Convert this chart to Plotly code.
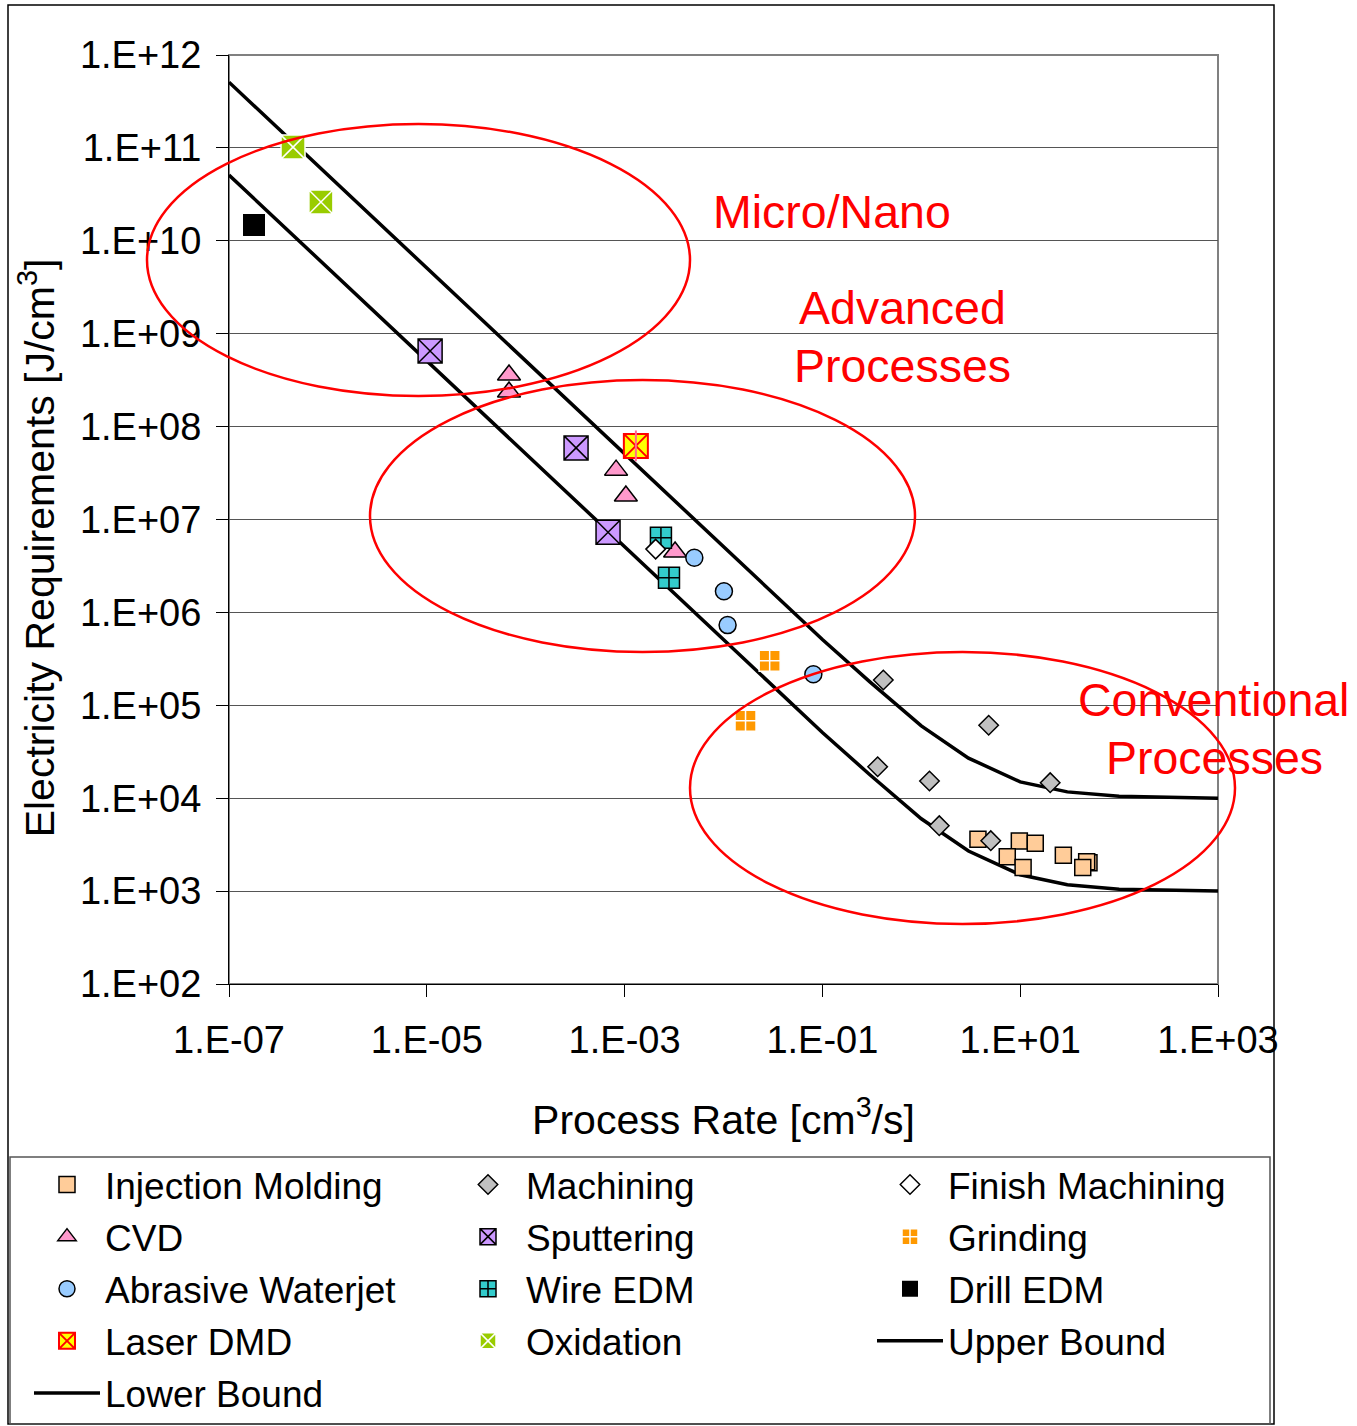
import plotly.graph_objects as go

# ---------------- data ----------------
im_x = [3.74, 9.8, 14.2, 7.4, 10.7, 27.3, 49.6, 47.0, 42.9]
im_y = [3610, 3460, 3270, 2340, 1800, 2430, 2020, 2070, 1800]

mach_x = [0.413, 4.8, 0.362, 1.21, 20.1, 1.52, 5.04]
mach_y = [1.87e5, 6.1e4, 2.18e4, 1.53e4, 1.47e4, 5060, 3490]

fm_x = [2.06e-3]
fm_y = [4.8e6]

cvd_x = [6.78e-5, 6.78e-5, 8.2e-4, 1.03e-3, 3.24e-3]
cvd_y = [3.6e8, 2.36e8, 3.4e7, 1.79e7, 4.47e6]

sput_x = [1.08e-5, 3.23e-4, 6.8e-4]
sput_y = [6.5e8, 5.9e7, 7.3e6]

grind_x = [2.93e-2, 1.67e-2]
grind_y = [3.02e5, 6.8e4]

awj_x = [5.07e-3, 1.01e-2, 1.10e-2, 8.1e-2]
awj_y = [3.88e6, 1.69e6, 7.3e5, 2.16e5]

wedm_x = [2.33e-3, 2.81e-3]
wedm_y = [6.37e6, 2.36e6]

dedm_x = [1.79e-7]
dedm_y = [1.48e10]

ldmd_x = [1.30e-3]
ldmd_y = [6.2e7]

ox_x = [4.44e-7, 8.5e-7]
ox_y = [1.02e11, 2.62e10]

bound_x = [1e-7, 1e-6, 1e-5, 1e-4, 1e-3, 1e-2, 1e-1, 0.3, 1, 3, 10, 30, 100, 1000]
upper_y = [5.1e11, 5.1e10, 5.1e9, 5.1e8, 5.1e7, 5.1e6, 5.1e5, 1.8e5, 6.0e4, 2.7e4,
           1.5e4, 1.17e4, 1.05e4, 1.0e4]
lower_y = [5.1e10, 5.1e9, 5.1e8, 5.1e7, 5.1e6, 5.1e5, 5.1e4, 1.8e4, 6.0e3, 2.7e3,
           1.5e3, 1.17e3, 1.05e3, 1.0e3]

x_tickvals = [1e-7, 1e-5, 1e-3, 1e-1, 1e1, 1e3]
x_ticktext = ["1.E-07", "1.E-05", "1.E-03", "1.E-01", "1.E+01", "1.E+03"]
y_tickvals = [1e2, 1e3, 1e4, 1e5, 1e6, 1e7, 1e8, 1e9, 1e10, 1e11, 1e12]
y_ticktext = ["1.E+02", "1.E+03", "1.E+04", "1.E+05", "1.E+06", "1.E+07",
              "1.E+08", "1.E+09", "1.E+10", "1.E+11", "1.E+12"]

# ---------------- layout geometry ----------------
W, H = 1357, 1426
PL, PR, PT, PB = 229, 1218, 55, 984  # plot area in pixels
FONT = "Liberation Sans, Arial, sans-serif"


def px(xp):
    return (xp - PL) / (PR - PL)


def py(yp):
    return (PB - yp) / (PB - PT)


fig = go.Figure()

line_style = dict(color="black", width=3.5)
fig.add_trace(go.Scatter(x=bound_x, y=upper_y, mode="lines", name="Upper Bound",
                         line=line_style, legend="legend3", legendgroup="ub",
                         legendrank=2000))
fig.add_trace(go.Scatter(x=bound_x, y=lower_y, mode="lines", name="Lower Bound",
                         line=line_style, legend="legend", legendgroup="lb",
                         legendrank=2000))

rank = [0]


def add_pts(x, y, name, symbol, size, fill, lcol, lw, legend, group):
    rank[0] += 1
    fig.add_trace(go.Scatter(
        x=x, y=y, mode="markers", name=name, legend=legend, legendgroup=group,
        legendrank=rank[0],
        marker=dict(symbol=symbol, size=size, color=fill,
                    line=dict(color=lcol, width=lw))))


add_pts(im_x, im_y, "Injection Molding", "square", 16, "#FFCC99", "black", 1.5, "legend", "im")
add_pts(cvd_x, cvd_y, "CVD", "triangle-up", 20, "#FF99CC", "black", 1.5, "legend", "cvd")
add_pts(awj_x, awj_y, "Abrasive Waterjet", "circle", 17, "#99CCFF", "black", 1.5, "legend", "awj")
add_pts(ldmd_x, ldmd_y, "Laser DMD", "square-x", 24, "#FFFF00", "#FF0000", 2, "legend", "ldmd")
fig.add_trace(go.Scatter(x=ldmd_x, y=ldmd_y, mode="markers", showlegend=False,
                         legend="legend", legendgroup="ldmd", hoverinfo="skip",
                         marker=dict(symbol="line-ns-open", size=22,
                                     line=dict(color="#FF0000", width=2))))
add_pts(mach_x, mach_y, "Machining", "diamond", 15, "#C0C0C0", "black", 1.5, "legend2", "mach")
add_pts(sput_x, sput_y, "Sputtering", "square-x", 24, "#CC99FF", "black", 1.5, "legend2", "sput")
add_pts(wedm_x, wedm_y, "Wire EDM", "square-cross", 21, "#33CCCC", "black", 1.5, "legend2", "wedm")
add_pts(ox_x, ox_y, "Oxidation", "square-x", 24, "#99CC00", "white", 1.5, "legend2", "ox")
add_pts(fm_x, fm_y, "Finish Machining", "diamond", 15, "white", "black", 1.5, "legend3", "fm")
add_pts(grind_x, grind_y, "Grinding", "square-cross", 21, "#FF9900", "white", 1.5, "legend3", "grind")
add_pts(dedm_x, dedm_y, "Drill EDM", "square", 22, "black", "black", 0, "legend3", "dedm")

# ---------------- shapes ----------------
shapes = []
# outer chart border
shapes.append(dict(type="rect", xref="paper", yref="paper", x0=px(8), x1=px(1274),
                   y0=py(1424), y1=py(5), line=dict(color="black", width=1.5), layer="below"))
# legend box
shapes.append(dict(type="rect", xref="paper", yref="paper", x0=px(10), x1=px(1270),
                   y0=py(1424), y1=py(1157), line=dict(color="#555555", width=1.5), layer="below"))
# plot-area border (gray top/right)
shapes.append(dict(type="rect", xref="paper", yref="paper", x0=0, x1=1, y0=0, y1=1,
                   line=dict(color="#808080", width=2), layer="below"))
# red ellipses
for (l, r, t, b) in [(147, 690, 124, 396), (370, 915, 380, 652), (690, 1235, 652, 924)]:
    shapes.append(dict(type="circle", xref="paper", yref="paper", x0=px(l), x1=px(r),
                       y0=py(b), y1=py(t), line=dict(color="#FF0000", width=2.5)))

annots = []
for txt, cx, cy in [("Micro/Nano", 832, 212), ("Advanced", 902, 308), ("Processes", 902, 366),
                    ("Conventional", 1213, 700), ("Processes", 1214, 758)]:
    annots.append(dict(text=txt, x=px(cx), y=py(cy), xref="paper", yref="paper",
                       showarrow=False, xanchor="center", yanchor="middle",
                       font=dict(family=FONT, size=46.5, color="#FF0000")))

legend_common = dict(orientation="v", xanchor="left", yanchor="top",
                     bgcolor="rgba(0,0,0,0)", borderwidth=0, itemwidth=66,
                     tracegroupgap=1, traceorder="grouped",
                     font=dict(family=FONT, size=37, color="black"))

fig.update_layout(
    width=W, height=H,
    margin=dict(l=PL, r=W - PR, t=PT, b=H - PB, autoexpand=False),
    paper_bgcolor="white", plot_bgcolor="white",
    font=dict(family=FONT, color="black"),
    shapes=shapes, annotations=annots,
    legend=dict(x=px(29), y=py(1154), **legend_common),
    legend2=dict(x=px(450), y=py(1154), **legend_common),
    legend3=dict(x=px(872), y=py(1154), **legend_common),
    xaxis=dict(type="log", range=[-7, 3], tickvals=x_tickvals, ticktext=x_ticktext,
               ticks="outside", ticklen=12, tickcolor="black", tickwidth=1,
               showline=True, linecolor="black", linewidth=1, showgrid=False,
               zeroline=False, tickfont=dict(family=FONT, size=38),
               ticklabelstandoff=10,
               title=dict(text="Process Rate [cm<sup>3</sup>/s]",
                          font=dict(family=FONT, size=41), standoff=45)),
    yaxis=dict(type="log", range=[2, 12], tickvals=y_tickvals, ticktext=y_ticktext,
               ticks="outside", ticklen=12, tickcolor="black", tickwidth=1,
               showline=True, linecolor="black", linewidth=1, showgrid=True,
               gridcolor="#555555", gridwidth=1, zeroline=False,
               tickfont=dict(family=FONT, size=38), ticklabelstandoff=7,
               title=dict(text="Electricity Requirements [J/cm<sup>3</sup>]"
                               "&nbsp;&nbsp;&nbsp;&nbsp;&nbsp;",
                          font=dict(family=FONT, size=41), standoff=12)),
)

fig.write_html("out.html", config={"displayModeBar": False},
               post_script="document.body.style.margin='0';")
